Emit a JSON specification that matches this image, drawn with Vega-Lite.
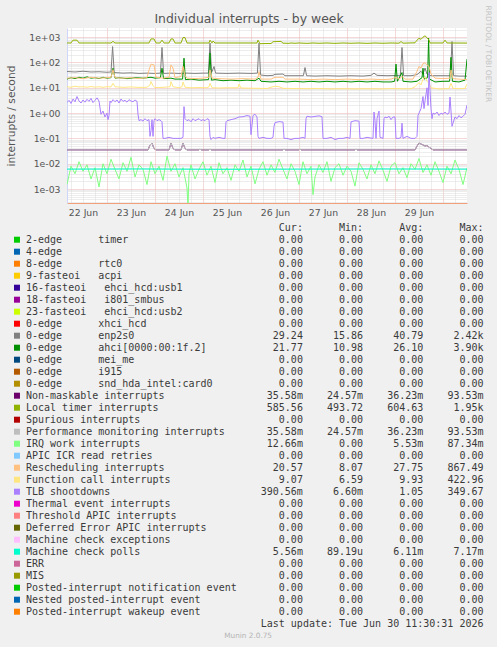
{
"$schema": "https://vega.github.io/schema/vega-lite/v6.json",
"width": 400, "height": 175,
"autosize": {"type": "none"},
"padding": {"left": 67, "top": 28, "right": 30, "bottom": 444},
"background": "#F0F0F0",
"config": {"view": {"fill": "white", "stroke": null}, "axis": {"labelFont": "DejaVu Sans", "titleFont": "DejaVu Sans", "labelColor": "#555555", "titleColor": "#555555", "titleFontWeight": "normal"}},
"datasets": {
"ts": [
{"k":"enp","h":4,"v":44},{"k":"enp","h":8,"v":42},{"k":"enp","h":12,"v":45},{"k":"enp","h":16,"v":42},{"k":"enp","h":20,"v":43},{"k":"enp","h":24,"v":41},{"k":"enp","h":26,"v":42},{"k":"enp","h":26.8,"v":425},{"k":"enp","h":27.6,"v":40},{"k":"enp","h":32,"v":38},{"k":"enp","h":36,"v":39},{"k":"enp","h":40,"v":37},{"k":"enp","h":44,"v":38},{"k":"enp","h":48,"v":37},{"k":"enp","h":50.7,"v":38},{"k":"enp","h":51.5,"v":390},{"k":"enp","h":52.3,"v":37},{"k":"enp","h":56,"v":38},{"k":"enp","h":60,"v":37},{"k":"enp","h":64,"v":38},{"k":"enp","h":68,"v":37},{"k":"enp","h":72,"v":38},{"k":"enp","h":74.7,"v":38},{"k":"enp","h":75.5,"v":580},{"k":"enp","h":76.3,"v":40},{"k":"enp","h":77.5,"v":69},{"k":"enp","h":78.3,"v":38},{"k":"enp","h":84,"v":37},{"k":"enp","h":90,"v":38},{"k":"enp","h":96,"v":37},{"k":"enp","h":99.2,"v":38},{"k":"enp","h":100,"v":580},{"k":"enp","h":100.8,"v":32},{"k":"enp","h":104,"v":30},{"k":"enp","h":107,"v":31},{"k":"enp","h":108,"v":34},{"k":"enp","h":112,"v":35},{"k":"enp","h":113,"v":30},{"k":"enp","h":118,"v":30},{"k":"enp","h":122.2,"v":30},{"k":"enp","h":123,"v":63},{"k":"enp","h":123.8,"v":30},{"k":"enp","h":128,"v":29},{"k":"enp","h":134,"v":30},{"k":"enp","h":140,"v":29},{"k":"enp","h":146,"v":30},{"k":"enp","h":152,"v":29},{"k":"enp","h":156,"v":31},{"k":"enp","h":157.5,"v":38},{"k":"enp","h":159,"v":31},{"k":"enp","h":164,"v":30},{"k":"enp","h":170.7,"v":31},{"k":"enp","h":171.5,"v":390},{"k":"enp","h":172.3,"v":30},{"k":"enp","h":176,"v":30},{"k":"enp","h":179,"v":33},{"k":"enp","h":181,"v":45},{"k":"enp","h":182,"v":35},{"k":"enp","h":183,"v":60},{"k":"enp","h":184,"v":35},{"k":"enp","h":186,"v":30},{"k":"enp","h":190,"v":30},{"k":"enp","h":195.7,"v":30},{"k":"enp","h":196.5,"v":670},{"k":"enp","h":197.3,"v":30},{"k":"enp","h":200,"v":29},{"k":"enp","h":204,"v":29},
{"k":"ahci","h":4,"v":22},{"k":"ahci","h":6,"v":25},{"k":"ahci","h":8,"v":23},{"k":"ahci","h":10,"v":26},{"k":"ahci","h":12,"v":24},{"k":"ahci","h":14,"v":27},{"k":"ahci","h":16,"v":24},{"k":"ahci","h":18,"v":25},{"k":"ahci","h":20,"v":23},{"k":"ahci","h":22,"v":26},{"k":"ahci","h":24,"v":24},{"k":"ahci","h":26,"v":25},{"k":"ahci","h":27,"v":59},{"k":"ahci","h":28,"v":24},{"k":"ahci","h":30,"v":25},{"k":"ahci","h":34,"v":23},{"k":"ahci","h":38,"v":25},{"k":"ahci","h":42,"v":24},{"k":"ahci","h":46,"v":26},{"k":"ahci","h":48,"v":24},{"k":"ahci","h":50.7,"v":25},{"k":"ahci","h":51.5,"v":59},{"k":"ahci","h":52.3,"v":23},{"k":"ahci","h":56,"v":24},{"k":"ahci","h":58,"v":22},{"k":"ahci","h":61.8,"v":22},{"k":"ahci","h":62.5,"v":148},{"k":"ahci","h":63.2,"v":21},{"k":"ahci","h":66,"v":22},{"k":"ahci","h":70,"v":20},{"k":"ahci","h":74.8,"v":21},{"k":"ahci","h":75.5,"v":233},{"k":"ahci","h":76.2,"v":20},{"k":"ahci","h":78,"v":21},{"k":"ahci","h":82,"v":19},{"k":"ahci","h":86,"v":20},{"k":"ahci","h":90,"v":19},{"k":"ahci","h":94,"v":20},{"k":"ahci","h":98,"v":19},{"k":"ahci","h":100,"v":24},{"k":"ahci","h":101,"v":18},{"k":"ahci","h":106,"v":17},{"k":"ahci","h":110,"v":18},{"k":"ahci","h":114,"v":17},{"k":"ahci","h":118,"v":18},{"k":"ahci","h":122,"v":17},{"k":"ahci","h":126,"v":18},{"k":"ahci","h":130,"v":17},{"k":"ahci","h":134,"v":18},{"k":"ahci","h":138,"v":17},{"k":"ahci","h":142,"v":18},{"k":"ahci","h":146,"v":17},{"k":"ahci","h":150,"v":18},{"k":"ahci","h":154,"v":17},{"k":"ahci","h":158,"v":18},{"k":"ahci","h":162,"v":17},{"k":"ahci","h":166,"v":17},{"k":"ahci","h":167.8,"v":18},{"k":"ahci","h":168.5,"v":86},{"k":"ahci","h":169.2,"v":18},{"k":"ahci","h":171.5,"v":40},{"k":"ahci","h":172,"v":18},{"k":"ahci","h":176,"v":17},{"k":"ahci","h":179,"v":18},{"k":"ahci","h":181.5,"v":25},{"k":"ahci","h":182,"v":59},{"k":"ahci","h":182.5,"v":22},{"k":"ahci","h":184.3,"v":25},{"k":"ahci","h":184.8,"v":910},{"k":"ahci","h":185.3,"v":22},{"k":"ahci","h":188,"v":17},{"k":"ahci","h":192,"v":18},{"k":"ahci","h":195.3,"v":18},{"k":"ahci","h":196,"v":160},{"k":"ahci","h":196.7,"v":18},{"k":"ahci","h":200,"v":17},{"k":"ahci","h":203,"v":20},{"k":"ahci","h":204,"v":135},
{"k":"nmi","h":4,"v":0.035},{"k":"nmi","h":44.5,"v":0.035},{"k":"nmi","h":45.5,"v":0.055},{"k":"nmi","h":46.5,"v":0.065},{"k":"nmi","h":47.5,"v":0.04},{"k":"nmi","h":48.5,"v":0.035},{"k":"nmi","h":55,"v":0.035},{"k":"nmi","h":56,"v":0.065},{"k":"nmi","h":57,"v":0.04},{"k":"nmi","h":58,"v":0.035},{"k":"nmi","h":61,"v":0.035},{"k":"nmi","h":62,"v":0.065},{"k":"nmi","h":63,"v":0.04},{"k":"nmi","h":64,"v":0.035},{"k":"nmi","h":70,"v":0.035},{"k":"nmi","h":70.5,"v":0.038},{"k":"nmi","h":71,"v":0.035},{"k":"nmi","h":75,"v":0.035},{"k":"nmi","h":75.5,"v":0.038},{"k":"nmi","h":76,"v":0.035},{"k":"nmi","h":112,"v":0.035},{"k":"nmi","h":112.5,"v":0.038},{"k":"nmi","h":113,"v":0.035},{"k":"nmi","h":120,"v":0.035},{"k":"nmi","h":120.5,"v":0.038},{"k":"nmi","h":121,"v":0.035},{"k":"nmi","h":148,"v":0.035},{"k":"nmi","h":148.5,"v":0.038},{"k":"nmi","h":149,"v":0.035},{"k":"nmi","h":178,"v":0.035},{"k":"nmi","h":179,"v":0.05},{"k":"nmi","h":180,"v":0.065},{"k":"nmi","h":181,"v":0.06},{"k":"nmi","h":182,"v":0.055},{"k":"nmi","h":183,"v":0.05},{"k":"nmi","h":184,"v":0.052},{"k":"nmi","h":185,"v":0.045},{"k":"nmi","h":186,"v":0.04},{"k":"nmi","h":187,"v":0.035},{"k":"nmi","h":204,"v":0.035},
{"k":"loc","h":4,"v":590},{"k":"loc","h":6,"v":590},{"k":"loc","h":7,"v":760},{"k":"loc","h":9,"v":760},{"k":"loc","h":10,"v":590},{"k":"loc","h":26,"v":590},{"k":"loc","h":27,"v":680},{"k":"loc","h":28,"v":590},{"k":"loc","h":45,"v":590},{"k":"loc","h":46,"v":850},{"k":"loc","h":47.5,"v":850},{"k":"loc","h":48.5,"v":590},{"k":"loc","h":50.5,"v":590},{"k":"loc","h":51.5,"v":760},{"k":"loc","h":52.5,"v":590},{"k":"loc","h":55,"v":590},{"k":"loc","h":56,"v":850},{"k":"loc","h":57,"v":850},{"k":"loc","h":58,"v":590},{"k":"loc","h":61,"v":590},{"k":"loc","h":62,"v":960},{"k":"loc","h":63,"v":960},{"k":"loc","h":64,"v":590},{"k":"loc","h":75,"v":590},{"k":"loc","h":75.5,"v":760},{"k":"loc","h":76.5,"v":590},{"k":"loc","h":77,"v":700},{"k":"loc","h":78,"v":590},{"k":"loc","h":99,"v":590},{"k":"loc","h":99.5,"v":760},{"k":"loc","h":100.5,"v":550},{"k":"loc","h":103,"v":560},{"k":"loc","h":106,"v":560},{"k":"loc","h":107,"v":660},{"k":"loc","h":111,"v":680},{"k":"loc","h":112,"v":580},{"k":"loc","h":115,"v":570},{"k":"loc","h":116,"v":590},{"k":"loc","h":118,"v":575},{"k":"loc","h":120,"v":590},{"k":"loc","h":124,"v":570},{"k":"loc","h":127,"v":590},{"k":"loc","h":130,"v":575},{"k":"loc","h":134,"v":590},{"k":"loc","h":138,"v":570},{"k":"loc","h":142,"v":590},{"k":"loc","h":146,"v":575},{"k":"loc","h":150,"v":590},{"k":"loc","h":154,"v":570},{"k":"loc","h":158,"v":590},{"k":"loc","h":162,"v":575},{"k":"loc","h":166,"v":590},{"k":"loc","h":170,"v":580},{"k":"loc","h":171,"v":670},{"k":"loc","h":172,"v":580},{"k":"loc","h":178,"v":600},{"k":"loc","h":179,"v":760},{"k":"loc","h":180,"v":900},{"k":"loc","h":181,"v":820},{"k":"loc","h":182,"v":1000},{"k":"loc","h":183,"v":1130},{"k":"loc","h":184,"v":950},{"k":"loc","h":185,"v":760},{"k":"loc","h":185.5,"v":590},{"k":"loc","h":192,"v":590},{"k":"loc","h":193,"v":760},{"k":"loc","h":194,"v":590},{"k":"loc","h":204,"v":585},
{"k":"pmi","h":4,"v":0.035},{"k":"pmi","h":44.5,"v":0.035},{"k":"pmi","h":45.5,"v":0.055},{"k":"pmi","h":46.5,"v":0.065},{"k":"pmi","h":47.5,"v":0.04},{"k":"pmi","h":48.5,"v":0.035},{"k":"pmi","h":55,"v":0.035},{"k":"pmi","h":56,"v":0.065},{"k":"pmi","h":57,"v":0.04},{"k":"pmi","h":58,"v":0.035},{"k":"pmi","h":61,"v":0.035},{"k":"pmi","h":62,"v":0.065},{"k":"pmi","h":63,"v":0.04},{"k":"pmi","h":64,"v":0.035},{"k":"pmi","h":70,"v":0.035},{"k":"pmi","h":70.5,"v":0.038},{"k":"pmi","h":71,"v":0.035},{"k":"pmi","h":75,"v":0.035},{"k":"pmi","h":75.5,"v":0.038},{"k":"pmi","h":76,"v":0.035},{"k":"pmi","h":112,"v":0.035},{"k":"pmi","h":112.5,"v":0.038},{"k":"pmi","h":113,"v":0.035},{"k":"pmi","h":120,"v":0.035},{"k":"pmi","h":120.5,"v":0.038},{"k":"pmi","h":121,"v":0.035},{"k":"pmi","h":148,"v":0.035},{"k":"pmi","h":148.5,"v":0.038},{"k":"pmi","h":149,"v":0.035},{"k":"pmi","h":178,"v":0.035},{"k":"pmi","h":179,"v":0.05},{"k":"pmi","h":180,"v":0.065},{"k":"pmi","h":181,"v":0.06},{"k":"pmi","h":182,"v":0.055},{"k":"pmi","h":183,"v":0.05},{"k":"pmi","h":184,"v":0.052},{"k":"pmi","h":185,"v":0.045},{"k":"pmi","h":186,"v":0.04},{"k":"pmi","h":187,"v":0.035},{"k":"pmi","h":204,"v":0.035},
{"k":"iwi","h":4,"v":0.0015},{"k":"iwi","h":6,"v":0.008},{"k":"iwi","h":8,"v":0.004},{"k":"iwi","h":10,"v":0.012},{"k":"iwi","h":12,"v":0.005},{"k":"iwi","h":14,"v":0.009},{"k":"iwi","h":16,"v":0.0025},{"k":"iwi","h":18,"v":0.007},{"k":"iwi","h":20,"v":0.0012},{"k":"iwi","h":22,"v":0.01},{"k":"iwi","h":24,"v":0.004},{"k":"iwi","h":26,"v":0.015},{"k":"iwi","h":28,"v":0.006},{"k":"iwi","h":30,"v":0.0025},{"k":"iwi","h":32,"v":0.011},{"k":"iwi","h":34,"v":0.005},{"k":"iwi","h":36,"v":0.018},{"k":"iwi","h":38,"v":0.003},{"k":"iwi","h":40,"v":0.009},{"k":"iwi","h":42,"v":0.006},{"k":"iwi","h":44,"v":0.0015},{"k":"iwi","h":46,"v":0.012},{"k":"iwi","h":48,"v":0.004},{"k":"iwi","h":50,"v":0.008},{"k":"iwi","h":52,"v":0.0022},{"k":"iwi","h":54,"v":0.02},{"k":"iwi","h":56,"v":0.005},{"k":"iwi","h":58,"v":0.01},{"k":"iwi","h":60,"v":0.003},{"k":"iwi","h":62,"v":0.007},{"k":"iwi","h":64,"v":0.0011},{"k":"iwi","h":64.5,"v":0.0002},{"k":"iwi","h":65,"v":0.004},{"k":"iwi","h":66,"v":0.009},{"k":"iwi","h":68,"v":0.0025},{"k":"iwi","h":70,"v":0.006},{"k":"iwi","h":72,"v":0.012},{"k":"iwi","h":74,"v":0.0035},{"k":"iwi","h":76,"v":0.008},{"k":"iwi","h":78,"v":0.0018},{"k":"iwi","h":80,"v":0.011},{"k":"iwi","h":82,"v":0.004},{"k":"iwi","h":84,"v":0.007},{"k":"iwi","h":86,"v":0.0022},{"k":"iwi","h":88,"v":0.009},{"k":"iwi","h":90,"v":0.005},{"k":"iwi","h":92,"v":0.014},{"k":"iwi","h":94,"v":0.003},{"k":"iwi","h":96,"v":0.008},{"k":"iwi","h":98,"v":0.0016},{"k":"iwi","h":100,"v":0.006},{"k":"iwi","h":102,"v":0.012},{"k":"iwi","h":104,"v":0.0035},{"k":"iwi","h":106,"v":0.009},{"k":"iwi","h":108,"v":0.0045},{"k":"iwi","h":110,"v":0.015},{"k":"iwi","h":112,"v":0.006},{"k":"iwi","h":114,"v":0.0025},{"k":"iwi","h":116,"v":0.01},{"k":"iwi","h":118,"v":0.005},{"k":"iwi","h":120,"v":0.0015},{"k":"iwi","h":122,"v":0.012},{"k":"iwi","h":124,"v":0.004},{"k":"iwi","h":126,"v":0.008},{"k":"iwi","h":127,"v":0.0006},{"k":"iwi","h":128,"v":0.003},{"k":"iwi","h":130,"v":0.009},{"k":"iwi","h":132,"v":0.0045},{"k":"iwi","h":134,"v":0.012},{"k":"iwi","h":136,"v":0.002},{"k":"iwi","h":138,"v":0.007},{"k":"iwi","h":140,"v":0.01},{"k":"iwi","h":142,"v":0.0035},{"k":"iwi","h":144,"v":0.008},{"k":"iwi","h":146,"v":0.005},{"k":"iwi","h":148,"v":0.0013},{"k":"iwi","h":150,"v":0.011},{"k":"iwi","h":152,"v":0.006},{"k":"iwi","h":154,"v":0.0025},{"k":"iwi","h":156,"v":0.009},{"k":"iwi","h":158,"v":0.004},{"k":"iwi","h":160,"v":0.013},{"k":"iwi","h":162,"v":0.0055},{"k":"iwi","h":164,"v":0.002},{"k":"iwi","h":166,"v":0.008},{"k":"iwi","h":168,"v":0.011},{"k":"iwi","h":170,"v":0.004},{"k":"iwi","h":172,"v":0.007},{"k":"iwi","h":174,"v":0.0028},{"k":"iwi","h":176,"v":0.01},{"k":"iwi","h":178,"v":0.006},{"k":"iwi","h":180,"v":0.016},{"k":"iwi","h":182,"v":0.0045},{"k":"iwi","h":184,"v":0.009},{"k":"iwi","h":186,"v":0.0035},{"k":"iwi","h":188,"v":0.012},{"k":"iwi","h":190,"v":0.005},{"k":"iwi","h":192,"v":0.0018},{"k":"iwi","h":194,"v":0.008},{"k":"iwi","h":196,"v":0.004},{"k":"iwi","h":198,"v":0.014},{"k":"iwi","h":200,"v":0.006},{"k":"iwi","h":202,"v":0.0015},{"k":"iwi","h":204,"v":0.007},
{"k":"res","h":4,"v":24},{"k":"res","h":8,"v":25},{"k":"res","h":12,"v":23},{"k":"res","h":16,"v":26},{"k":"res","h":20,"v":24},{"k":"res","h":24,"v":25},{"k":"res","h":26,"v":26},{"k":"res","h":27,"v":52},{"k":"res","h":28,"v":25},{"k":"res","h":32,"v":24},{"k":"res","h":36,"v":25},{"k":"res","h":40,"v":23},{"k":"res","h":44,"v":25},{"k":"res","h":45,"v":50},{"k":"res","h":46,"v":86},{"k":"res","h":47.5,"v":80},{"k":"res","h":48.5,"v":26},{"k":"res","h":52,"v":24},{"k":"res","h":55,"v":26},{"k":"res","h":56,"v":80},{"k":"res","h":57,"v":60},{"k":"res","h":58,"v":25},{"k":"res","h":61,"v":28},{"k":"res","h":62,"v":70},{"k":"res","h":63,"v":30},{"k":"res","h":64,"v":24},{"k":"res","h":68,"v":23},{"k":"res","h":72,"v":24},{"k":"res","h":75,"v":26},{"k":"res","h":75.5,"v":50},{"k":"res","h":76.5,"v":24},{"k":"res","h":80,"v":23},{"k":"res","h":86,"v":22},{"k":"res","h":92,"v":23},{"k":"res","h":98,"v":22},{"k":"res","h":99.5,"v":26},{"k":"res","h":100,"v":44},{"k":"res","h":101,"v":22},{"k":"res","h":106,"v":22},{"k":"res","h":108,"v":26},{"k":"res","h":112,"v":26},{"k":"res","h":113,"v":22},{"k":"res","h":120,"v":22},{"k":"res","h":126,"v":21},{"k":"res","h":132,"v":22},{"k":"res","h":138,"v":21},{"k":"res","h":144,"v":22},{"k":"res","h":150,"v":21},{"k":"res","h":156,"v":22},{"k":"res","h":162,"v":21},{"k":"res","h":166,"v":22},{"k":"res","h":168.5,"v":26},{"k":"res","h":170,"v":22},{"k":"res","h":171.5,"v":28},{"k":"res","h":173,"v":22},{"k":"res","h":177,"v":22},{"k":"res","h":179,"v":45},{"k":"res","h":180,"v":70},{"k":"res","h":181,"v":60},{"k":"res","h":182,"v":90},{"k":"res","h":183,"v":97},{"k":"res","h":184,"v":80},{"k":"res","h":185,"v":70},{"k":"res","h":186,"v":35},{"k":"res","h":188,"v":24},{"k":"res","h":192,"v":23},{"k":"res","h":195.5,"v":24},{"k":"res","h":196,"v":50},{"k":"res","h":197,"v":23},{"k":"res","h":200,"v":22},{"k":"res","h":204,"v":21},
{"k":"cal","h":4,"v":11},{"k":"cal","h":6,"v":10.5},{"k":"cal","h":8,"v":11.5},{"k":"cal","h":10,"v":10.8},{"k":"cal","h":12,"v":11},{"k":"cal","h":14,"v":10.5},{"k":"cal","h":16,"v":11.2},{"k":"cal","h":18,"v":10.6},{"k":"cal","h":20,"v":11},{"k":"cal","h":22,"v":10.4},{"k":"cal","h":24,"v":11},{"k":"cal","h":26,"v":10.8},{"k":"cal","h":27,"v":15},{"k":"cal","h":28,"v":11},{"k":"cal","h":32,"v":10.4},{"k":"cal","h":36,"v":10.8},{"k":"cal","h":40,"v":10.3},{"k":"cal","h":44,"v":10.5},{"k":"cal","h":45.5,"v":13},{"k":"cal","h":46,"v":17.6},{"k":"cal","h":47,"v":12},{"k":"cal","h":48,"v":10.2},{"k":"cal","h":52,"v":10.4},{"k":"cal","h":55.5,"v":11},{"k":"cal","h":56,"v":17.6},{"k":"cal","h":57,"v":11},{"k":"cal","h":60,"v":10},{"k":"cal","h":61.5,"v":11},{"k":"cal","h":62,"v":17},{"k":"cal","h":63,"v":10.5},{"k":"cal","h":66,"v":10},{"k":"cal","h":70,"v":10.2},{"k":"cal","h":74,"v":10},{"k":"cal","h":75,"v":11},{"k":"cal","h":75.5,"v":15},{"k":"cal","h":76.5,"v":10},{"k":"cal","h":80,"v":9.8},{"k":"cal","h":84,"v":10},{"k":"cal","h":89.5,"v":10},{"k":"cal","h":90,"v":14},{"k":"cal","h":91,"v":9.8},{"k":"cal","h":96,"v":9.6},{"k":"cal","h":100,"v":9.5},{"k":"cal","h":104,"v":9.3},{"k":"cal","h":106,"v":10.5},{"k":"cal","h":108,"v":11.5},{"k":"cal","h":110,"v":11},{"k":"cal","h":112,"v":9.5},{"k":"cal","h":118,"v":9.3},{"k":"cal","h":124,"v":9.2},{"k":"cal","h":130,"v":9.3},{"k":"cal","h":136,"v":9},{"k":"cal","h":142,"v":9.2},{"k":"cal","h":148,"v":9},{"k":"cal","h":154,"v":9.2},{"k":"cal","h":160,"v":9},{"k":"cal","h":166,"v":9.3},{"k":"cal","h":172,"v":9.1},{"k":"cal","h":176,"v":9.2},{"k":"cal","h":178,"v":11},{"k":"cal","h":180,"v":16},{"k":"cal","h":181,"v":13},{"k":"cal","h":182,"v":22},{"k":"cal","h":183,"v":27},{"k":"cal","h":184,"v":18},{"k":"cal","h":185,"v":15},{"k":"cal","h":186,"v":10},{"k":"cal","h":190,"v":9},{"k":"cal","h":195,"v":9.3},{"k":"cal","h":196,"v":15},{"k":"cal","h":197,"v":9.5},{"k":"cal","h":200,"v":9.2},{"k":"cal","h":203,"v":9.5},{"k":"cal","h":204,"v":14},
{"k":"tlb","h":4,"v":2.6},{"k":"tlb","h":5,"v":3.2},{"k":"tlb","h":6,"v":2.4},{"k":"tlb","h":7,"v":3.6},{"k":"tlb","h":8,"v":2.8},{"k":"tlb","h":9,"v":4.5},{"k":"tlb","h":10,"v":3},{"k":"tlb","h":11,"v":2.5},{"k":"tlb","h":12,"v":3.3},{"k":"tlb","h":13,"v":2.7},{"k":"tlb","h":14,"v":3.5},{"k":"tlb","h":15,"v":2.9},{"k":"tlb","h":16,"v":3.8},{"k":"tlb","h":17,"v":2.6},{"k":"tlb","h":18,"v":3.2},{"k":"tlb","h":19,"v":4},{"k":"tlb","h":20,"v":3},{"k":"tlb","h":20.5,"v":1.6},{"k":"tlb","h":21,"v":0.9},{"k":"tlb","h":22,"v":1.2},{"k":"tlb","h":23,"v":0.7},{"k":"tlb","h":24,"v":1},{"k":"tlb","h":24.5,"v":0.55},{"k":"tlb","h":25,"v":0.8},{"k":"tlb","h":25.5,"v":3},{"k":"tlb","h":26,"v":2.6},{"k":"tlb","h":27,"v":3.4},{"k":"tlb","h":28,"v":2.8},{"k":"tlb","h":29,"v":3.3},{"k":"tlb","h":30,"v":2.5},{"k":"tlb","h":31,"v":3.6},{"k":"tlb","h":32,"v":2.9},{"k":"tlb","h":33,"v":3.2},{"k":"tlb","h":34,"v":2.7},{"k":"tlb","h":35,"v":3.4},{"k":"tlb","h":36,"v":3},{"k":"tlb","h":37,"v":2.8},{"k":"tlb","h":38,"v":3.3},{"k":"tlb","h":39,"v":2.9},{"k":"tlb","h":39.5,"v":0.9},{"k":"tlb","h":40,"v":0.5},{"k":"tlb","h":41,"v":0.55},{"k":"tlb","h":42,"v":0.48},{"k":"tlb","h":43,"v":0.6},{"k":"tlb","h":44,"v":0.5},{"k":"tlb","h":45,"v":0.55},{"k":"tlb","h":45.5,"v":0.12},{"k":"tlb","h":46,"v":0.2},{"k":"tlb","h":46.5,"v":0.55},{"k":"tlb","h":47,"v":0.12},{"k":"tlb","h":47.5,"v":0.5},{"k":"tlb","h":48,"v":0.6},{"k":"tlb","h":49,"v":0.5},{"k":"tlb","h":50,"v":0.55},{"k":"tlb","h":51,"v":0.5},{"k":"tlb","h":51.5,"v":0.45},{"k":"tlb","h":52,"v":0.1},{"k":"tlb","h":53,"v":0.1},{"k":"tlb","h":55,"v":0.11},{"k":"tlb","h":57,"v":0.1},{"k":"tlb","h":59,"v":0.1},{"k":"tlb","h":61,"v":0.1},{"k":"tlb","h":62,"v":0.11},{"k":"tlb","h":62.5,"v":1.8},{"k":"tlb","h":63,"v":0.6},{"k":"tlb","h":64,"v":0.5},{"k":"tlb","h":65,"v":0.55},{"k":"tlb","h":66,"v":0.45},{"k":"tlb","h":67,"v":0.6},{"k":"tlb","h":68,"v":0.5},{"k":"tlb","h":69,"v":0.55},{"k":"tlb","h":70,"v":0.6},{"k":"tlb","h":71,"v":0.5},{"k":"tlb","h":72,"v":0.55},{"k":"tlb","h":73,"v":0.5},{"k":"tlb","h":74,"v":0.6},{"k":"tlb","h":75,"v":0.55},{"k":"tlb","h":75.5,"v":0.12},{"k":"tlb","h":76,"v":0.09},{"k":"tlb","h":77,"v":0.11},{"k":"tlb","h":78,"v":0.1},{"k":"tlb","h":80,"v":0.11},{"k":"tlb","h":82,"v":0.1},{"k":"tlb","h":83,"v":0.1},{"k":"tlb","h":83.5,"v":0.45},{"k":"tlb","h":84,"v":0.5},{"k":"tlb","h":86,"v":0.55},{"k":"tlb","h":88,"v":0.6},{"k":"tlb","h":90,"v":0.7},{"k":"tlb","h":92,"v":0.72},{"k":"tlb","h":94,"v":0.8},{"k":"tlb","h":95.5,"v":0.75},{"k":"tlb","h":96,"v":0.14},{"k":"tlb","h":97,"v":0.8},{"k":"tlb","h":98,"v":0.9},{"k":"tlb","h":99,"v":0.7},{"k":"tlb","h":99.5,"v":0.12},{"k":"tlb","h":100,"v":0.1},{"k":"tlb","h":102,"v":0.11},{"k":"tlb","h":104,"v":0.1},{"k":"tlb","h":106,"v":0.1},{"k":"tlb","h":107,"v":0.11},{"k":"tlb","h":107.5,"v":0.3},{"k":"tlb","h":108,"v":0.42},{"k":"tlb","h":110,"v":0.46},{"k":"tlb","h":112,"v":0.44},{"k":"tlb","h":112.5,"v":0.1},{"k":"tlb","h":114,"v":0.1},{"k":"tlb","h":116,"v":0.09},{"k":"tlb","h":118,"v":0.1},{"k":"tlb","h":120,"v":0.1},{"k":"tlb","h":122,"v":0.11},{"k":"tlb","h":123,"v":0.1},{"k":"tlb","h":123.5,"v":0.6},{"k":"tlb","h":124,"v":0.75},{"k":"tlb","h":126,"v":0.7},{"k":"tlb","h":128,"v":0.74},{"k":"tlb","h":130,"v":0.78},{"k":"tlb","h":131.5,"v":0.72},{"k":"tlb","h":132,"v":0.1},{"k":"tlb","h":134,"v":0.1},{"k":"tlb","h":136,"v":0.11},{"k":"tlb","h":138,"v":0.09},{"k":"tlb","h":140,"v":0.1},{"k":"tlb","h":142,"v":0.1},{"k":"tlb","h":144,"v":0.11},{"k":"tlb","h":145.5,"v":0.1},{"k":"tlb","h":146,"v":0.45},{"k":"tlb","h":148,"v":0.5},{"k":"tlb","h":150,"v":0.48},{"k":"tlb","h":150.5,"v":0.1},{"k":"tlb","h":152,"v":0.1},{"k":"tlb","h":154,"v":0.11},{"k":"tlb","h":157,"v":0.1},{"k":"tlb","h":157.5,"v":1.1},{"k":"tlb","h":158,"v":0.5},{"k":"tlb","h":158.5,"v":0.1},{"k":"tlb","h":159,"v":0.6},{"k":"tlb","h":160,"v":1.2},{"k":"tlb","h":160.5,"v":0.11},{"k":"tlb","h":162,"v":0.1},{"k":"tlb","h":162.5,"v":0.6},{"k":"tlb","h":163,"v":0.7},{"k":"tlb","h":164,"v":0.65},{"k":"tlb","h":165,"v":0.75},{"k":"tlb","h":166,"v":0.55},{"k":"tlb","h":167,"v":0.7},{"k":"tlb","h":168,"v":0.7},{"k":"tlb","h":168.5,"v":0.1},{"k":"tlb","h":170,"v":0.1},{"k":"tlb","h":171,"v":0.11},{"k":"tlb","h":171.5,"v":0.4},{"k":"tlb","h":172,"v":0.1},{"k":"tlb","h":174,"v":0.12},{"k":"tlb","h":176,"v":0.1},{"k":"tlb","h":178,"v":0.1},{"k":"tlb","h":179,"v":0.12},{"k":"tlb","h":179.5,"v":0.8},{"k":"tlb","h":180,"v":1.0},{"k":"tlb","h":181,"v":1.5},{"k":"tlb","h":182,"v":4.5},{"k":"tlb","h":182.5,"v":1.5},{"k":"tlb","h":183,"v":3},{"k":"tlb","h":184,"v":10},{"k":"tlb","h":184.5,"v":2},{"k":"tlb","h":185,"v":40},{"k":"tlb","h":185.5,"v":8},{"k":"tlb","h":186,"v":1.5},{"k":"tlb","h":186.5,"v":0.6},{"k":"tlb","h":187,"v":1},{"k":"tlb","h":188,"v":0.9},{"k":"tlb","h":189,"v":1.1},{"k":"tlb","h":190,"v":0.8},{"k":"tlb","h":191,"v":1},{"k":"tlb","h":192,"v":0.9},{"k":"tlb","h":193,"v":1.1},{"k":"tlb","h":194,"v":0.9},{"k":"tlb","h":195,"v":1},{"k":"tlb","h":195.5,"v":4.3},{"k":"tlb","h":196,"v":1.2},{"k":"tlb","h":196.5,"v":0.3},{"k":"tlb","h":197,"v":0.4},{"k":"tlb","h":198,"v":0.7},{"k":"tlb","h":199,"v":0.6},{"k":"tlb","h":200,"v":0.8},{"k":"tlb","h":201,"v":0.65},{"k":"tlb","h":202,"v":0.75},{"k":"tlb","h":203,"v":0.9},{"k":"tlb","h":204,"v":2.1},
{"k":"mcp","h":4,"v":0.0061},{"k":"mcp","h":40,"v":0.0062},{"k":"mcp","h":80,"v":0.006},{"k":"mcp","h":120,"v":0.0061},{"k":"mcp","h":160,"v":0.0062},{"k":"mcp","h":204,"v":0.0061}
],
"leg": [
{"k":"hdr","n":"","cur":"Cur:\u00a0\u00a0","min":"Min:\u00a0\u00a0","avg":"Avg:\u00a0\u00a0","max":"Max:\u00a0\u00a0"},
{"k":"t2","n":"2-edge\u00a0\u00a0\u00a0\u00a0\u00a0\u00a0timer","cur":"0.00\u00a0","min":"0.00\u00a0","avg":"0.00\u00a0","max":"0.00\u00a0"},
{"k":"e4","n":"4-edge","cur":"0.00\u00a0","min":"0.00\u00a0","avg":"0.00\u00a0","max":"0.00\u00a0"},
{"k":"rtc","n":"8-edge\u00a0\u00a0\u00a0\u00a0\u00a0\u00a0rtc0","cur":"0.00\u00a0","min":"0.00\u00a0","avg":"0.00\u00a0","max":"0.00\u00a0"},
{"k":"acpi","n":"9-fasteoi\u00a0\u00a0\u00a0acpi","cur":"0.00\u00a0","min":"0.00\u00a0","avg":"0.00\u00a0","max":"0.00\u00a0"},
{"k":"usb1","n":"16-fasteoi\u00a0\u00a0\u00a0ehci_hcd:usb1","cur":"0.00\u00a0","min":"0.00\u00a0","avg":"0.00\u00a0","max":"0.00\u00a0"},
{"k":"smb","n":"18-fasteoi\u00a0\u00a0\u00a0i801_smbus","cur":"0.00\u00a0","min":"0.00\u00a0","avg":"0.00\u00a0","max":"0.00\u00a0"},
{"k":"usb2","n":"23-fasteoi\u00a0\u00a0\u00a0ehci_hcd:usb2","cur":"0.00\u00a0","min":"0.00\u00a0","avg":"0.00\u00a0","max":"0.00\u00a0"},
{"k":"xhci","n":"0-edge\u00a0\u00a0\u00a0\u00a0\u00a0\u00a0xhci_hcd","cur":"0.00\u00a0","min":"0.00\u00a0","avg":"0.00\u00a0","max":"0.00\u00a0"},
{"k":"enp","n":"0-edge\u00a0\u00a0\u00a0\u00a0\u00a0\u00a0enp2s0","cur":"29.24\u00a0","min":"15.86\u00a0","avg":"40.79\u00a0","max":"2.42k"},
{"k":"ahci","n":"0-edge\u00a0\u00a0\u00a0\u00a0\u00a0\u00a0ahci[0000:00:1f.2]","cur":"21.77\u00a0","min":"10.98\u00a0","avg":"26.10\u00a0","max":"3.90k"},
{"k":"mei","n":"0-edge\u00a0\u00a0\u00a0\u00a0\u00a0\u00a0mei_me","cur":"0.00\u00a0","min":"0.00\u00a0","avg":"0.00\u00a0","max":"0.00\u00a0"},
{"k":"i915","n":"0-edge\u00a0\u00a0\u00a0\u00a0\u00a0\u00a0i915","cur":"0.00\u00a0","min":"0.00\u00a0","avg":"0.00\u00a0","max":"0.00\u00a0"},
{"k":"snd","n":"0-edge\u00a0\u00a0\u00a0\u00a0\u00a0\u00a0snd_hda_intel:card0","cur":"0.00\u00a0","min":"0.00\u00a0","avg":"0.00\u00a0","max":"0.00\u00a0"},
{"k":"nmi","n":"Non-maskable interrupts","cur":"35.58m","min":"24.57m","avg":"36.23m","max":"93.53m"},
{"k":"loc","n":"Local timer interrupts","cur":"585.56\u00a0","min":"493.72\u00a0","avg":"604.63\u00a0","max":"1.95k"},
{"k":"spu","n":"Spurious interrupts","cur":"0.00\u00a0","min":"0.00\u00a0","avg":"0.00\u00a0","max":"0.00\u00a0"},
{"k":"pmi","n":"Performance monitoring interrupts","cur":"35.58m","min":"24.57m","avg":"36.23m","max":"93.53m"},
{"k":"iwi","n":"IRQ work interrupts","cur":"12.66m","min":"0.00\u00a0","avg":"5.53m","max":"87.34m"},
{"k":"rtr","n":"APIC ICR read retries","cur":"0.00\u00a0","min":"0.00\u00a0","avg":"0.00\u00a0","max":"0.00\u00a0"},
{"k":"res","n":"Rescheduling interrupts","cur":"20.57\u00a0","min":"8.07\u00a0","avg":"27.75\u00a0","max":"867.49\u00a0"},
{"k":"cal","n":"Function call interrupts","cur":"9.07\u00a0","min":"6.59\u00a0","avg":"9.93\u00a0","max":"422.96\u00a0"},
{"k":"tlb","n":"TLB shootdowns","cur":"390.56m","min":"6.60m","avg":"1.05\u00a0","max":"349.67\u00a0"},
{"k":"trm","n":"Thermal event interrupts","cur":"0.00\u00a0","min":"0.00\u00a0","avg":"0.00\u00a0","max":"0.00\u00a0"},
{"k":"thr","n":"Threshold APIC interrupts","cur":"0.00\u00a0","min":"0.00\u00a0","avg":"0.00\u00a0","max":"0.00\u00a0"},
{"k":"dfr","n":"Deferred Error APIC interrupts","cur":"0.00\u00a0","min":"0.00\u00a0","avg":"0.00\u00a0","max":"0.00\u00a0"},
{"k":"mce","n":"Machine check exceptions","cur":"0.00\u00a0","min":"0.00\u00a0","avg":"0.00\u00a0","max":"0.00\u00a0"},
{"k":"mcp","n":"Machine check polls","cur":"5.56m","min":"89.19u","avg":"6.11m","max":"7.17m"},
{"k":"err","n":"ERR","cur":"0.00\u00a0","min":"0.00\u00a0","avg":"0.00\u00a0","max":"0.00\u00a0"},
{"k":"mis","n":"MIS","cur":"0.00\u00a0","min":"0.00\u00a0","avg":"0.00\u00a0","max":"0.00\u00a0"},
{"k":"pin","n":"Posted-interrupt notification event","cur":"0.00\u00a0","min":"0.00\u00a0","avg":"0.00\u00a0","max":"0.00\u00a0"},
{"k":"npi","n":"Nested posted-interrupt event","cur":"0.00\u00a0","min":"0.00\u00a0","avg":"0.00\u00a0","max":"0.00\u00a0"},
{"k":"piw","n":"Posted-interrupt wakeup event","cur":"0.00\u00a0","min":"0.00\u00a0","avg":"0.00\u00a0","max":"0.00\u00a0"}
]
},
"layer": [
{
"data": {"name": "ts"},
"mark": {"type": "line", "strokeWidth": 1, "clip": true},
"encoding": {
"x": {"field": "h", "type": "quantitative", "scale": {"domain": [4, 204], "nice": false, "zero": false},
 "axis": {"title": null, "values": [6,12,18,24,30,36,42,48,54,60,66,72,78,84,90,96,102,108,114,120,126,132,138,144,150,156,162,168,174,180,186,192,198],
  "labelExpr": "datum.value % 24 == 12 ? (22 + floor(datum.value / 24)) + ' Jun' : ''",
  "labelOverlap": false, "labelFlush": false, "labelFontSize": 9.3, "labelPadding": 5, "ticks": false, "tickSize": 0,
  "domainColor": "#F2A07A", "domainWidth": 1,
  "grid": true, "gridDash": [1, 1], "gridWidth": 1,
  "gridColor": {"condition": {"test": "datum.value % 24 == 0", "value": "#EAB0B0"}, "value": "#DADADA"}}},
"y": {"field": "v", "type": "quantitative", "scale": {"type": "log", "domain": [0.00028, 2300], "nice": false},
 "axis": {"title": "interrupts / second", "titleFontSize": 10.7, "titleX": -52.5, "titleBaseline": "alphabetic",
  "values": [0.0003,0.0004,0.0005,0.0006,0.0007,0.0008,0.0009,0.001,0.002,0.003,0.004,0.005,0.006,0.007,0.008,0.009,0.01,0.02,0.03,0.04,0.05,0.06,0.07,0.08,0.09,0.1,0.2,0.3,0.4,0.5,0.6,0.7,0.8,0.9,1,2,3,4,5,6,7,8,9,10,20,30,40,50,60,70,80,90,100,200,300,400,500,600,700,800,900,1000,2000],
  "labelExpr": "abs(log(datum.value)/LN10 - round(log(datum.value)/LN10)) < 0.000001 ? '1e' + (round(log(datum.value)/LN10) < 0 ? '-' : '+') + '0' + abs(round(log(datum.value)/LN10)) : ''",
  "labelOverlap": false, "labelFlush": false, "labelFontSize": 9.3, "labelPadding": 7, "ticks": false, "tickSize": 0,
  "domainColor": "#CFD6F8", "domainWidth": 1,
  "grid": true, "gridDash": [1, 1], "gridWidth": 1,
  "gridColor": {"condition": {"test": "abs(log(datum.value)/LN10 - round(log(datum.value)/LN10)) < 0.000001", "value": "#EAB0B0"}, "value": "#DADADA"}}},
"color": {"field": "k", "type": "nominal", "legend": null,
 "scale": {"domain": ["t2","e4","rtc","acpi","usb1","smb","usb2","xhci","enp","ahci","mei","i915","snd","nmi","loc","spu","pmi","iwi","rtr","res","cal","tlb","trm","thr","dfr","mce","mcp","err","mis","pin","npi","piw"],
  "range": ["#00CC00","#0066B3","#FF8000","#FFCC00","#330099","#990099","#CCFF00","#FF0000","#808080","#008F00","#00487D","#B35A00","#B38F00","#6B006B","#8FB300","#B30000","#BEBEBE","#80FF80","#80C9FF","#FFC080","#FFE680","#AA80FF","#EE00CC","#FF8080","#666600","#FFBFFF","#00FFCC","#CC6699","#999900","#00CC00","#0066B3","#FF8000"]}}
}
},
{
"data": {"name": "leg"},
"encoding": {
"y": {"field": "k", "type": "ordinal",
 "scale": {"type": "point", "padding": 0, "range": [199.7, 607.7],
  "domain": ["hdr","t2","e4","rtc","acpi","usb1","smb","usb2","xhci","enp","ahci","mei","i915","snd","nmi","loc","spu","pmi","iwi","rtr","res","cal","tlb","trm","thr","dfr","mce","mcp","err","mis","pin","npi","piw","upd","munin"]},
 "axis": {"orient": "right", "title": "RRDTOOL / TOBI OETIKER", "labels": false, "ticks": false, "domain": false, "grid": false,
  "titleAngle": 90, "titleX": 18, "titleY": -23, "titleAlign": "left", "titleBaseline": "alphabetic", "titleFontSize": 7.5, "titleColor": "#C4C4C4"}}
},
"layer": [
{
"transform": [{"filter": "datum.k != 'hdr'"}],
"mark": {"type": "point", "shape": "square", "filled": true, "size": 36, "opacity": 1, "strokeWidth": 0},
"encoding": {
 "x": {"datum": -1.5, "type": "quantitative", "scale": {"domain": [0, 76], "range": [-41, 416.5], "nice": false, "zero": false},
  "axis": {"orient": "top", "title": "Individual interrupts - by week", "labels": false, "ticks": false, "domain": false, "grid": false, "titleX": 181.5, "titleY": -5.5, "titleAlign": "center", "titleAngle": 0, "titleBaseline": "alphabetic", "titleFontSize": 12.4, "titleColor": "#555555"}},
 "color": {"field": "k", "type": "nominal", "legend": null,
  "scale": {"domain": ["t2","e4","rtc","acpi","usb1","smb","usb2","xhci","enp","ahci","mei","i915","snd","nmi","loc","spu","pmi","iwi","rtr","res","cal","tlb","trm","thr","dfr","mce","mcp","err","mis","pin","npi","piw"],
   "range": ["#00CC00","#0066B3","#FF8000","#FFCC00","#330099","#990099","#CCFF00","#FF0000","#808080","#008F00","#00487D","#B35A00","#B38F00","#6B006B","#8FB300","#B30000","#BEBEBE","#80FF80","#80C9FF","#FFC080","#FFE680","#AA80FF","#EE00CC","#FF8080","#666600","#FFBFFF","#00FFCC","#CC6699","#999900","#00CC00","#0066B3","#FF8000"]}}
}
},
{
"mark": {"type": "text", "align": "left", "baseline": "middle", "font": "DejaVu Sans Mono", "fontSize": 10, "color": "#3A3A3A"},
"encoding": {
 "x": {"datum": 0, "type": "quantitative", "scale": {"domain": [0, 76], "range": [-41, 416.5], "nice": false, "zero": false},
  "axis": {"orient": "top", "title": "Individual interrupts - by week", "labels": false, "ticks": false, "domain": false, "grid": false, "titleX": 181.5, "titleY": -5.5, "titleAlign": "center", "titleAngle": 0, "titleBaseline": "alphabetic", "titleFontSize": 12.4, "titleColor": "#555555"}},
 "text": {"field": "n"}
}
},
{
"mark": {"type": "text", "align": "right", "baseline": "middle", "font": "DejaVu Sans Mono", "fontSize": 10, "color": "#3A3A3A"},
"encoding": {
 "x": {"datum": 46, "type": "quantitative", "scale": {"domain": [0, 76], "range": [-41, 416.5], "nice": false, "zero": false},
  "axis": {"orient": "top", "title": "Individual interrupts - by week", "labels": false, "ticks": false, "domain": false, "grid": false, "titleX": 181.5, "titleY": -5.5, "titleAlign": "center", "titleAngle": 0, "titleBaseline": "alphabetic", "titleFontSize": 12.4, "titleColor": "#555555"}},
 "text": {"field": "cur"}
}
},
{
"mark": {"type": "text", "align": "right", "baseline": "middle", "font": "DejaVu Sans Mono", "fontSize": 10, "color": "#3A3A3A"},
"encoding": {
 "x": {"datum": 56, "type": "quantitative", "scale": {"domain": [0, 76], "range": [-41, 416.5], "nice": false, "zero": false},
  "axis": {"orient": "top", "title": "Individual interrupts - by week", "labels": false, "ticks": false, "domain": false, "grid": false, "titleX": 181.5, "titleY": -5.5, "titleAlign": "center", "titleAngle": 0, "titleBaseline": "alphabetic", "titleFontSize": 12.4, "titleColor": "#555555"}},
 "text": {"field": "min"}
}
},
{
"mark": {"type": "text", "align": "right", "baseline": "middle", "font": "DejaVu Sans Mono", "fontSize": 10, "color": "#3A3A3A"},
"encoding": {
 "x": {"datum": 66, "type": "quantitative", "scale": {"domain": [0, 76], "range": [-41, 416.5], "nice": false, "zero": false},
  "axis": {"orient": "top", "title": "Individual interrupts - by week", "labels": false, "ticks": false, "domain": false, "grid": false, "titleX": 181.5, "titleY": -5.5, "titleAlign": "center", "titleAngle": 0, "titleBaseline": "alphabetic", "titleFontSize": 12.4, "titleColor": "#555555"}},
 "text": {"field": "avg"}
}
},
{
"mark": {"type": "text", "align": "right", "baseline": "middle", "font": "DejaVu Sans Mono", "fontSize": 10, "color": "#3A3A3A"},
"encoding": {
 "x": {"datum": 76, "type": "quantitative", "scale": {"domain": [0, 76], "range": [-41, 416.5], "nice": false, "zero": false},
  "axis": {"orient": "top", "title": "Individual interrupts - by week", "labels": false, "ticks": false, "domain": false, "grid": false, "titleX": 181.5, "titleY": -5.5, "titleAlign": "center", "titleAngle": 0, "titleBaseline": "alphabetic", "titleFontSize": 12.4, "titleColor": "#555555"}},
 "text": {"field": "max"}
}
},
{
"data": {"values": [{"k": "upd", "t": "Last update: Tue Jun 30 11:30:31 2026"}]},
"mark": {"type": "text", "align": "right", "baseline": "middle", "font": "DejaVu Sans Mono", "fontSize": 10, "color": "#3A3A3A"},
"encoding": {
 "x": {"datum": 76, "type": "quantitative", "scale": {"domain": [0, 76], "range": [-41, 416.5], "nice": false, "zero": false},
  "axis": {"orient": "top", "title": "Individual interrupts - by week", "labels": false, "ticks": false, "domain": false, "grid": false, "titleX": 181.5, "titleY": -5.5, "titleAlign": "center", "titleAngle": 0, "titleBaseline": "alphabetic", "titleFontSize": 12.4, "titleColor": "#555555"}},
 "text": {"field": "t"}
}
},
{
"data": {"values": [{"k": "munin", "t": "Munin 2.0.75"}]},
"mark": {"type": "text", "align": "center", "baseline": "middle", "font": "DejaVu Sans", "fontSize": 7.3, "color": "#B4B4B4"},
"encoding": {
 "x": {"datum": 36.9, "type": "quantitative", "scale": {"domain": [0, 76], "range": [-41, 416.5], "nice": false, "zero": false},
  "axis": {"orient": "top", "title": "Individual interrupts - by week", "labels": false, "ticks": false, "domain": false, "grid": false, "titleX": 181.5, "titleY": -5.5, "titleAlign": "center", "titleAngle": 0, "titleBaseline": "alphabetic", "titleFontSize": 12.4, "titleColor": "#555555"}},
 "text": {"field": "t"}
}
}
]
}
],
"resolve": {"scale": {"x": "independent", "y": "independent"}}
}
